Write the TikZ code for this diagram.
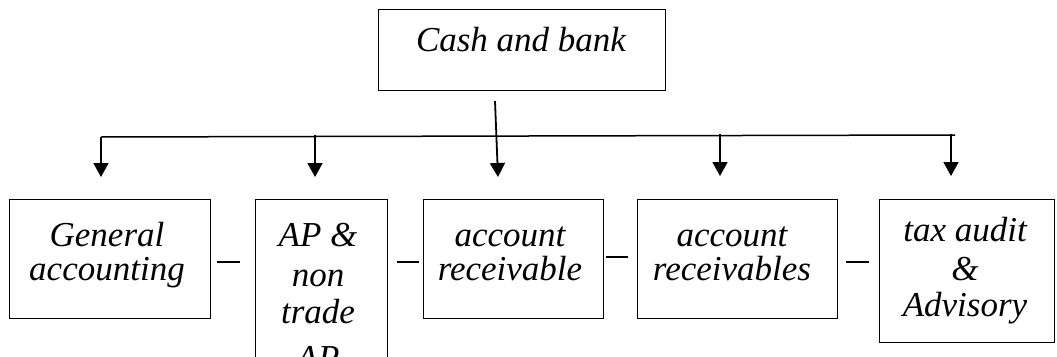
\documentclass[tikz,border=0pt]{standalone}
\usepackage{fontspec}
\setmainfont{Liberation Serif}
\usetikzlibrary{arrows.meta}
\begin{document}
\begin{tikzpicture}[x=1pt,y=-1pt,
 box/.style={draw, line width=1.4pt, inner sep=0pt, anchor=north west},
 txt/.style={font=\fontsize{35}{35}\selectfont\itshape, anchor=base, inner sep=0pt},
 arr/.style={line width=1.8pt, -{Triangle[width=15pt,length=14pt]}},
 bus/.style={line width=1.5pt},
 dashline/.style={line width=1.5pt}]
\clip (0,0) rectangle (1057,356);
% boxes
\node[box, minimum width=287pt, minimum height=81pt] (top) at (378,9) {};
\node[box, minimum width=201pt, minimum height=119pt] (b1) at (9,199) {};
\node[box, minimum width=132pt, minimum height=180pt] (b2) at (255,199) {};
\node[box, minimum width=180pt, minimum height=119pt] (b3) at (423,199) {};
\node[box, minimum width=200pt, minimum height=119pt] (b4) at (637,199) {};
\node[box, minimum width=175pt, minimum height=143pt] (b5) at (879,199) {};
% texts
\node[txt] (t0) at (521,51) {Cash and bank};
\node[txt] (t1a) at (107,246) {General};
\node[txt] (t1b) at (107,280) {accounting};
\node[txt] (t2a) at (318,246) {AP \&};
\node[txt] (t2b) at (318,286) {non};
\node[txt] (t2c) at (318,323) {trade};
\node[txt] (t2d) at (318,369) {AP};
\node[txt] (t3a) at (510,246) {account};
\node[txt] (t3b) at (510,280) {receivable};
\node[txt] (t4a) at (732,246) {account};
\node[txt] (t4b) at (732,280) {receivables};
\node[txt] (t5a) at (965,241) {tax audit};
\node[txt] (t5b) at (965,280) {\&};
\node[txt] (t5c) at (965,316) {Advisory};
% connector coordinates
\coordinate (m0) at (495,101);
\coordinate (m1) at (498,177);
\coordinate (busL) at (101,137);
\coordinate (busR) at (955,135);
\coordinate (a1) at (101,177);
\coordinate (s2) at (315,135);
\coordinate (a2) at (315,177);
\coordinate (s4) at (720,134);
\coordinate (a4) at (720,176);
\coordinate (s5) at (951,134);
\coordinate (a5) at (951,176);
% connectors
\draw[bus] (busR) -- (busL);
\draw[arr] (busL) -- (a1);
\draw[arr] (s2) -- (a2);
\draw[arr] (m0) -- (m1);
\draw[arr] (s4) -- (a4);
\draw[arr] (s5) -- (a5);
% dashes between boxes
\coordinate (d1a) at (217,262); \coordinate (d1b) at (240,262);
\coordinate (d2a) at (397,262); \coordinate (d2b) at (419,262);
\coordinate (d3a) at (606,257); \coordinate (d3b) at (628,257);
\coordinate (d4a) at (846,262); \coordinate (d4b) at (869,262);
\draw[dashline] (d1a) -- (d1b);
\draw[dashline] (d2a) -- (d2b);
\draw[dashline] (d3a) -- (d3b);
\draw[dashline] (d4a) -- (d4b);
\end{tikzpicture}
\end{document}
